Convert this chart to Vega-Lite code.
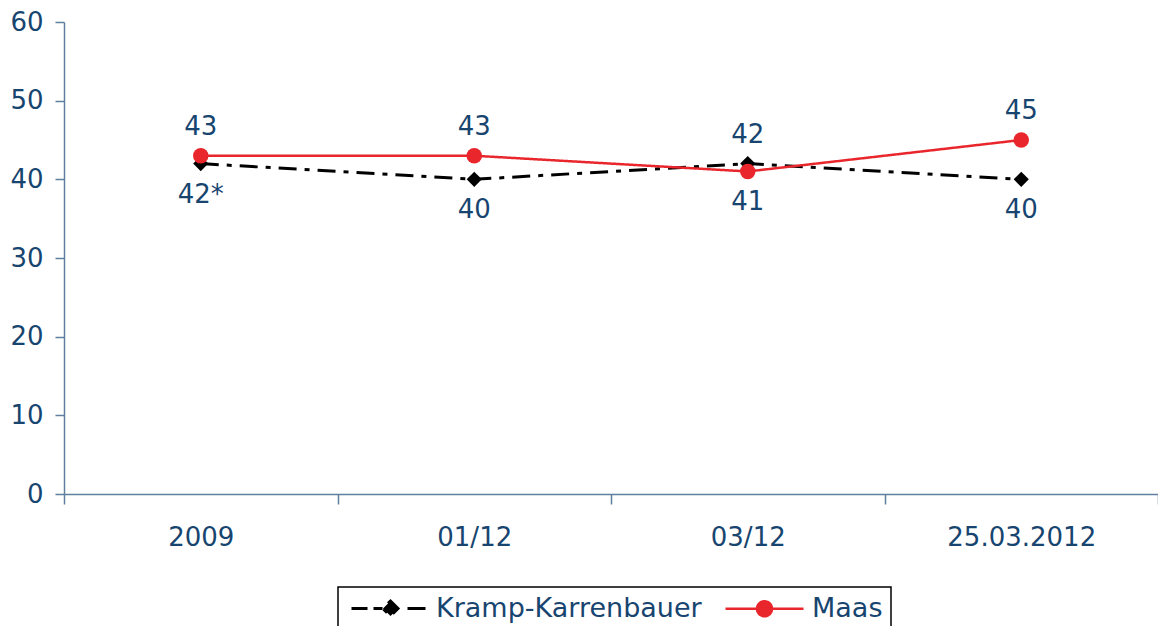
{
  "$schema": "https://vega.github.io/schema/vega-lite/v6.json",
  "width": 1094,
  "height": 472,
  "autosize": {"type": "none"},
  "padding": {"left": 64, "top": 22, "right": 0, "bottom": 132},
  "background": "white",
  "config": {
    "view": {"stroke": null},
    "font": "DejaVu Sans",
    "axis": {
      "labelFont": "DejaVu Sans",
      "labelFontSize": 26,
      "labelColor": "#17456f",
      "domainColor": "#5f7f9f",
      "tickColor": "#5f7f9f",
      "domainWidth": 1.5,
      "tickWidth": 1.5,
      "grid": false,
      "title": null
    },
    "legend": {
      "labelFont": "DejaVu Sans",
      "labelFontSize": 27,
      "labelColor": "#17456f",
      "labelLimit": 500
    }
  },
  "data": {
    "values": [
      {"date": "2009", "series": "Kramp-Karrenbauer", "value": 42, "label": "42*"},
      {"date": "01/12", "series": "Kramp-Karrenbauer", "value": 40, "label": "40"},
      {"date": "03/12", "series": "Kramp-Karrenbauer", "value": 42, "label": "42"},
      {"date": "25.03.2012", "series": "Kramp-Karrenbauer", "value": 40, "label": "40"},
      {"date": "2009", "series": "Maas", "value": 43, "label": "43"},
      {"date": "01/12", "series": "Maas", "value": 43, "label": "43"},
      {"date": "03/12", "series": "Maas", "value": 41, "label": "41"},
      {"date": "25.03.2012", "series": "Maas", "value": 45, "label": "45"}
    ]
  },
  "encoding": {
    "x": {
      "field": "date",
      "type": "nominal",
      "sort": ["2009", "01/12", "03/12", "25.03.2012"],
      "scale": {"paddingInner": 0, "paddingOuter": 0},
      "axis": {"labelAngle": 0, "tickBand": "extent", "tickSize": 10, "labelPadding": 20}
    },
    "y": {
      "field": "value",
      "type": "quantitative",
      "scale": {"domain": [0, 60], "nice": false, "zero": true},
      "axis": {"values": [0, 10, 20, 30, 40, 50, 60], "tickSize": 9, "labelPadding": 12}
    }
  },
  "layer": [
    {
      "mark": {"type": "line"},
      "encoding": {
        "color": {
          "field": "series",
          "type": "nominal",
          "scale": {"domain": ["Kramp-Karrenbauer", "Maas"], "range": ["#000000", "#e8262b"]},
          "legend": {
            "title": null,
            "orient": "none",
            "legendX": 274,
            "legendY": 565,
            "direction": "horizontal",
            "symbolSize": 400,
            "symbolType": "circle",
            "labelOffset": 63,
            "columnPadding": 18,
            "padding": 8,
            "strokeColor": "#000000",
            "encode": {
              "legend": {"update": {"strokeWidth": {"value": 1.5}}},
              "symbols": {
                "update": {
                  "shape": {"signal": "datum.value === 'Maas' ? 'M-1,0H6.8M2.15,0A0.75,0.75,0,1,1,3.65,0A0.75,0.75,0,1,1,2.15,0Z' : 'M-0.8,0H0.8M1.4,0H2.3M3.1,-0.75L3.85,0L3.1,0.75L2.35,0ZM4.8,0H6.6'"},
                  "fill": {"signal": "datum.value === 'Maas' ? '#e8262b' : '#000000'"},
                  "stroke": {"signal": "datum.value === 'Maas' ? '#e8262b' : '#000000'"},
                  "strokeWidth": {"value": 3},
                  "strokeDash": {"value": []},
                  "opacity": {"value": 1}
                }
              }
            }
          }
        },
        "strokeDash": {
          "field": "series",
          "type": "nominal",
          "scale": {"domain": ["Kramp-Karrenbauer", "Maas"], "range": [[18, 8, 5, 8], [1, 0]]},
          "legend": null
        },
        "strokeWidth": {
          "field": "series",
          "type": "nominal",
          "scale": {"domain": ["Kramp-Karrenbauer", "Maas"], "range": [3, 2.5]},
          "legend": null
        }
      }
    },
    {
      "transform": [{"filter": "datum.series === 'Kramp-Karrenbauer'"}],
      "mark": {"type": "point", "filled": true, "opacity": 1, "shape": "diamond", "size": 230, "color": "#000000"}
    },
    {
      "transform": [{"filter": "datum.series === 'Maas'"}],
      "mark": {"type": "point", "filled": true, "opacity": 1, "shape": "circle", "size": 240, "color": "#e8262b"}
    },
    {
      "transform": [
        {"joinaggregate": [{"op": "max", "field": "value", "as": "maxv"}], "groupby": ["date"]},
        {"filter": "datum.value == datum.maxv"}
      ],
      "mark": {"type": "text", "dy": -29, "fontSize": 26, "color": "#17456f", "font": "DejaVu Sans"},
      "encoding": {"text": {"field": "label"}}
    },
    {
      "transform": [
        {"joinaggregate": [{"op": "max", "field": "value", "as": "maxv"}], "groupby": ["date"]},
        {"filter": "datum.value < datum.maxv"}
      ],
      "mark": {"type": "text", "dy": 31, "fontSize": 26, "color": "#17456f", "font": "DejaVu Sans"},
      "encoding": {"text": {"field": "label"}}
    }
  ]
}
